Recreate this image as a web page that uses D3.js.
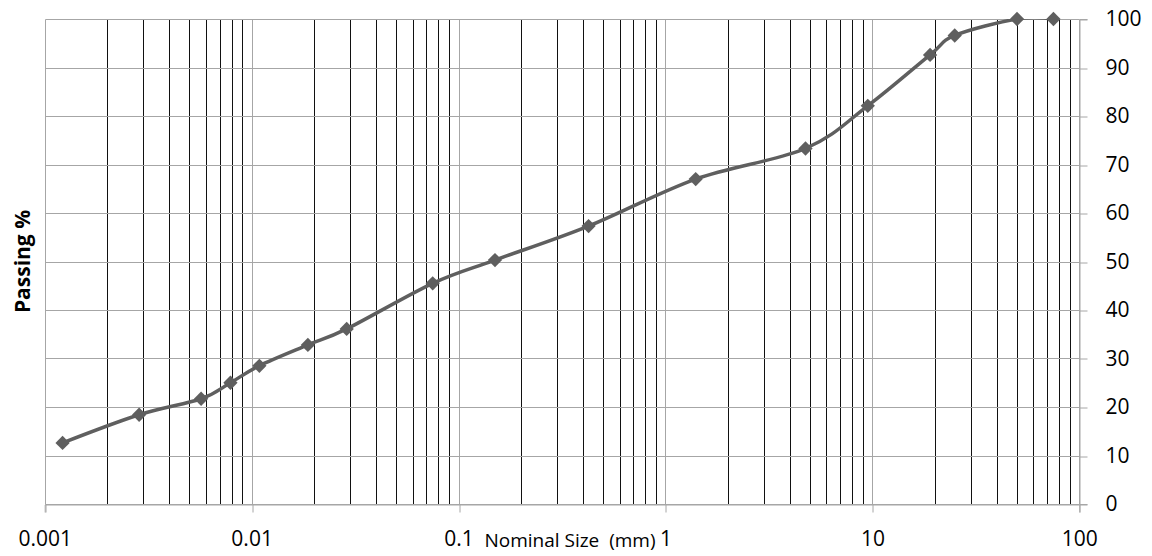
<!DOCTYPE html>
<html>
<head>
<meta charset="utf-8">
<script src="https://cdn.jsdelivr.net/npm/d3@7"></script>
<style>
  html, body { margin: 0; padding: 0; background: #fff; }
  svg { display: block; }
  text { font-family: "Open Sans", sans-serif; fill: #000; }
</style>
</head>
<body>
<svg id="chart" width="1152" height="556"></svg>
<script>
// Grain size distribution: sieve / hydrometer sizes (mm) and percent passing
const sizes   = [0.00122, 0.00286, 0.0057, 0.0079, 0.0109, 0.0187, 0.0288, 0.075, 0.15, 0.425, 1.4, 4.75, 9.5, 19, 25, 50, 75];
const passing = [12.6, 18.4, 21.7, 25.0, 28.5, 32.8, 36.1, 45.5, 50.3, 57.3, 67.0, 73.3, 82.1, 92.6, 96.6, 100, 100];

const xTickLabels = ["0.001", "0.01", "0.1", "1", "10", "100"];
const yTickValues = [0, 10, 20, 30, 40, 50, 60, 70, 80, 90, 100];

const svg = d3.select("#chart");
const plotLeft = 44.7, plotRight = 1079.3, plotTop = 19, plotBottom = 504;

const x = d3.scaleLog().domain([0.001, 100]).range([plotLeft, plotRight]);
const y = d3.scaleLinear().domain([0, 100]).range([plotBottom, plotTop]);

const gridColor = "#a6a6a6";
const px = v => Math.round(v) + 0.5;

// minor vertical gridlines (2..9 in each decade)
const minor = [];
for (let e = -3; e < 2; e++) {
  for (let m = 2; m <= 9; m++) minor.push(m * Math.pow(10, e));
}
svg.append("g").selectAll("line").data(minor).join("line")
  .attr("x1", d => px(x(d))).attr("x2", d => px(x(d)))
  .attr("y1", px(plotTop)).attr("y2", px(plotBottom))
  .attr("stroke", "#111").attr("stroke-width", 1);

// horizontal gridlines
svg.append("g").selectAll("line").data(yTickValues).join("line")
  .attr("x1", px(plotLeft)).attr("x2", px(plotRight))
  .attr("y1", d => px(y(d))).attr("y2", d => px(y(d)))
  .attr("stroke", gridColor).attr("stroke-width", 1);

// major (decade) vertical gridlines
const decades = xTickLabels.map(Number);
svg.append("g").selectAll("line").data(decades).join("line")
  .attr("x1", d => px(x(d))).attr("x2", d => px(x(d)))
  .attr("y1", px(plotTop)).attr("y2", px(plotBottom))
  .attr("stroke", gridColor).attr("stroke-width", 1);

// bottom axis
const xAxis = d3.axisBottom(x).tickValues(decades).tickSize(8).tickPadding(19)
  .tickFormat((d, i) => xTickLabels[i]);
const gx = svg.append("g").attr("transform", `translate(0,${px(plotBottom)})`).call(xAxis);
gx.select(".domain").attr("stroke", gridColor);
gx.selectAll(".tick line").attr("stroke", gridColor)
  .attr("transform", d => `translate(${px(x(d)) - x(d)},0)`);
gx.selectAll(".tick text").attr("font-size", 21).attr("font-family", "Open Sans");

// right axis
const yAxis = d3.axisRight(y).tickValues(yTickValues).tickSize(8).tickPadding(18);
const gy = svg.append("g").attr("transform", `translate(${px(plotRight)},0)`).call(yAxis);
gy.select(".domain").attr("stroke", gridColor);
gy.selectAll(".tick line").attr("stroke", gridColor)
  .attr("transform", d => `translate(0,${px(y(d)) - y(d)})`);
gy.selectAll(".tick text").attr("font-size", 21).attr("font-family", "Open Sans").attr("text-anchor", "start");

// axis titles
svg.append("text")
  .attr("x", (plotLeft + plotRight) / 2 + 8).attr("y", 547)
  .attr("text-anchor", "middle").attr("font-size", 19)
  .style("white-space", "pre")
  .text("Nominal Size  (mm)");

svg.append("text")
  .attr("transform", `translate(30,${(plotTop + plotBottom) / 2}) rotate(-90)`)
  .attr("text-anchor", "middle").attr("font-size", 21).attr("font-weight", "bold")
  .text("Passing %");

// gradation curve, clipped to the plot area
svg.append("clipPath").attr("id", "plot-clip")
  .append("rect")
  .attr("x", plotLeft).attr("y", plotTop)
  .attr("width", plotRight - plotLeft).attr("height", plotBottom - plotTop);

const pts = sizes.map((s, i) => [x(s), y(passing[i])]);
svg.append("path")
  .attr("clip-path", "url(#plot-clip)")
  .attr("d", d3.line().curve(d3.curveCatmullRom.alpha(0))(pts))
  .attr("fill", "none").attr("stroke", "#5f5f5f").attr("stroke-width", 3.5);

// diamond markers
const diamond = d3.symbol().type(d3.symbolDiamond2).size(130);
svg.append("g").selectAll("path").data(pts).join("path")
  .attr("transform", d => `translate(${d[0]},${d[1]})`)
  .attr("d", diamond)
  .attr("fill", "#5f5f5f");
</script>
</body>
</html>
